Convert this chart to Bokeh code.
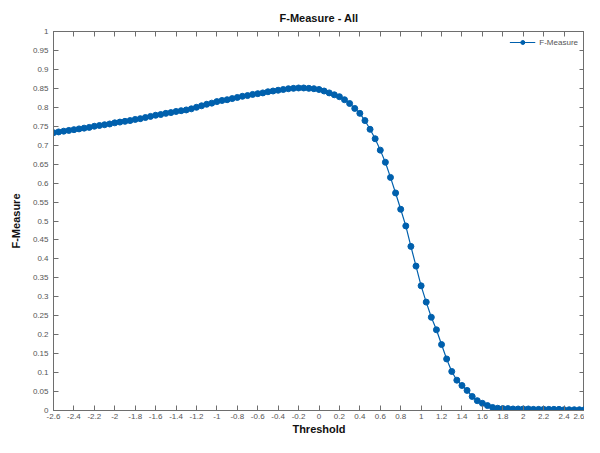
from bokeh.plotting import figure
from bokeh.models import LinearAxis, FixedTicker, Range1d, Legend, LegendItem, CustomJSTickFormatter
from bokeh.embed import file_html
from bokeh.resources import INLINE

# Threshold grid (step 0.05 from -2.6 to 2.6)
thresholds = [round(-2.6 + 0.05 * i, 2) for i in range(105)]

f_measure = [
    0.733, 0.735, 0.737, 0.739,
    0.741, 0.743, 0.745, 0.747,
    0.750, 0.752, 0.754, 0.756,
    0.759, 0.761, 0.763, 0.765,
    0.768, 0.770, 0.773, 0.776,
    0.779, 0.781, 0.784, 0.786,
    0.789, 0.791, 0.793, 0.796,
    0.800, 0.804, 0.808, 0.811,
    0.815, 0.818, 0.820, 0.823,
    0.826, 0.829, 0.831, 0.834,
    0.836, 0.838, 0.841, 0.843,
    0.845, 0.847, 0.849, 0.850,
    0.851, 0.851, 0.850, 0.849,
    0.847, 0.843, 0.838, 0.833,
    0.828, 0.820, 0.810, 0.797,
    0.784, 0.765, 0.742, 0.717,
    0.687, 0.655, 0.615, 0.574,
    0.531, 0.487, 0.433, 0.381,
    0.329, 0.286, 0.246, 0.213,
    0.174, 0.136, 0.103, 0.080,
    0.066, 0.053, 0.037, 0.026,
    0.019, 0.013, 0.008, 0.006,
    0.005, 0.005, 0.004, 0.004,
    0.004, 0.004, 0.003, 0.003,
    0.003, 0.003, 0.003, 0.003,
    0.002, 0.002, 0.002, 0.002,
    0.002,
]

x_ticks = [-2.6, -2.4, -2.2, -2.0, -1.8, -1.6, -1.4, -1.2, -1.0, -0.8, -0.6, -0.4, -0.2,
           0.0, 0.2, 0.4, 0.6, 0.8, 1.0, 1.2, 1.4, 1.6, 1.8, 2.0, 2.2, 2.4, 2.6]
x_tick_labels = ["-2.6", "-2.4", "-2.2", "-2", "-1.8", "-1.6", "-1.4", "-1.2", "-1", "-0.8", "-0.6",
                 "-0.4", "-0.2", "0", "0.2", "0.4", "0.6", "0.8", "1", "1.2", "1.4", "1.6", "1.8",
                 "2", "2.2", "2.4", "2.6"]
y_ticks = [0.0, 0.05, 0.1, 0.15, 0.2, 0.25, 0.3, 0.35, 0.4, 0.45, 0.5, 0.55, 0.6, 0.65, 0.7,
           0.75, 0.8, 0.85, 0.9, 0.95, 1.0]
y_tick_labels = ["0", "0.05", "0.1", "0.15", "0.2", "0.25", "0.3", "0.35", "0.4", "0.45", "0.5",
                 "0.55", "0.6", "0.65", "0.7", "0.75", "0.8", "0.85", "0.9", "0.95", "1"]

FONT = "Liberation Sans"
BLUE = "#0060ad"
AXIS_COL = "#6e6e6e"
LABEL_COL = "#555555"

p = figure(width=584, height=437, output_backend="svg", toolbar_location=None,
           x_range=Range1d(-2.6, 2.6), y_range=Range1d(0, 1),
           title="F-Measure - All", x_axis_label="Threshold", y_axis_label="F-Measure",
           min_border_left=53, min_border_right=0, min_border_top=31, min_border_bottom=0)

p.title.align = "center"
p.title.text_font = FONT
p.title.text_font_size = "11px"
p.title.text_font_style = "bold"
p.title.text_color = "#111111"
p.title.standoff = 15

p.xgrid.visible = False
p.ygrid.visible = False
p.outline_line_color = AXIS_COL
p.background_fill_color = "white"
p.border_fill_color = "white"

p.xaxis.ticker = FixedTicker(ticks=x_ticks)
p.yaxis.ticker = FixedTicker(ticks=y_ticks)
p.xaxis.major_label_overrides = dict(zip(x_ticks, x_tick_labels))
p.yaxis.major_label_overrides = dict(zip(y_ticks, y_tick_labels))

for ax in (p.xaxis[0], p.yaxis[0]):
    ax.major_tick_in = 5
    ax.major_tick_out = 0
    ax.minor_tick_line_color = None
    ax.axis_line_color = AXIS_COL
    ax.major_tick_line_color = AXIS_COL
    ax.major_label_text_font = FONT
    ax.major_label_text_font_size = "8px"
    ax.major_label_text_color = LABEL_COL
    ax.axis_label_text_font = FONT
    ax.axis_label_text_font_size = "11px"
    ax.axis_label_text_font_style = "bold"
    ax.axis_label_text_color = "#111111"
    ax.major_label_standoff = 3
    ax.axis_label_standoff = 1
p.yaxis[0].major_label_standoff = 5
p.yaxis[0].axis_label_standoff = 8

# mirrored tick axes (right and top), labels left blank
blank = CustomJSTickFormatter(code="return '';")
right_ax = LinearAxis(ticker=FixedTicker(ticks=y_ticks), formatter=blank,
                      major_tick_in=5, major_tick_out=0, minor_tick_line_color=None,
                      axis_line_color=AXIS_COL, major_tick_line_color=AXIS_COL,
                      major_label_standoff=0)
top_ax = LinearAxis(ticker=FixedTicker(ticks=x_ticks), formatter=blank,
                    major_tick_in=5, major_tick_out=0, minor_tick_line_color=None,
                    axis_line_color=AXIS_COL, major_tick_line_color=AXIS_COL,
                    major_label_standoff=0)
p.add_layout(right_ax, "right")
p.add_layout(top_ax, "above")

ln = p.line(thresholds, f_measure, line_color=BLUE, line_width=1.2)
pts = p.scatter(thresholds, f_measure, size=6, fill_color=BLUE, line_color=BLUE)

legend = Legend(items=[LegendItem(label="F-Measure", renderers=[ln, pts])],
                location="top_right", border_line_color=None, background_fill_alpha=0,
                label_text_font=FONT, label_text_font_size="8px", label_text_color=LABEL_COL,
                glyph_width=26, glyph_height=10, margin=6, padding=2, spacing=0,
                label_standoff=4)
p.add_layout(legend)

open("out.html", "w").write(file_html(p, INLINE))
